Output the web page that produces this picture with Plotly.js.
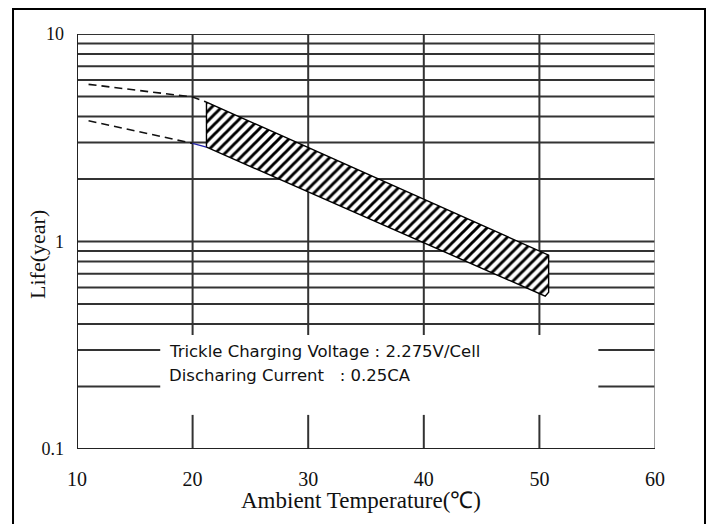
<!DOCTYPE html>
<html>
<head>
<meta charset="utf-8">
<script src="https://cdn.plot.ly/plotly-3.0.1.min.js"></script>
<style>html,body{margin:0;padding:0;background:#fff;}#chart{width:710px;height:524px;}</style>
</head>
<body>
<div id="chart"></div>
<script>
// ---- data ----
const xTickVals = [10, 20, 30, 40, 50, 60];
const xTickText = ['10', '20', '30', '40', '50', '60'];
const yTickVals = [0.1, 1, 10];
const yTickText = ['0.1', '1', '10'];

// grid values
const hGridFull = [0.4, 0.5, 0.6, 0.7, 0.8, 0.9, 1, 2, 3, 4, 5, 6, 7, 8, 9, 10];
const hGridPartial = [0.2, 0.3];
const vGrid = [20, 30, 40, 50];

// hatched life band (temperature, life in years)
const bandTemp = [21.2, 50.8, 50.8, 50.5, 21.2, 21.2];
const bandLife = [4.7, 0.86, 0.57, 0.545, 2.85, 4.7];

// dashed extrapolations below 20 C
const dashUpperTemp = [11, 20, 21.2];
const dashUpperLife = [5.72, 4.97, 4.7];
const dashLowerTemp = [11, 20];
const dashLowerLife = [3.82, 2.97];
const blueTemp = [20, 21.2];
const blueLife = [2.97, 2.85];

const noteLines = ['Trickle Charging Voltage : 2.275V/Cell', 'Discharing Current\u00a0\u00a0 : 0.25CA'];

// ---- layout helpers (not data) ----
const X0 = 10, X1 = 60, Y0 = 0.1, Y1 = 10;
const vGridEnd = 0.354, vTickTop = 0.146;
const partialLeftEnd = 17.2, partialRightStart = 55.1;

function segs(list) {
  const x = [], y = [];
  list.forEach(s => { x.push(s[0], s[2], null); y.push(s[1], s[3], null); });
  return {x, y};
}

const hFull = segs(hGridFull.map(v => [X0, v, X1, v]));
const hPart = segs([].concat(...hGridPartial.map(v => [[X0, v, partialLeftEnd, v], [partialRightStart, v, X1, v]])));
const vSeg = segs([].concat(...vGrid.map(v => [[v, Y1, v, vGridEnd], [v, Y0, v, vTickTop]])));
const axesDark = segs([[X0, Y0, X0, Y1], [X0, Y0, X1, Y0]]);
const axesRight = segs([[X1, Y0, X1, Y1]]);

const gridColor = '#333';
const traces = [
  {x: hFull.x, y: hFull.y, mode: 'lines', line: {color: gridColor, width: 2}, hoverinfo: 'skip'},
  {x: hPart.x, y: hPart.y, mode: 'lines', line: {color: gridColor, width: 2}, hoverinfo: 'skip'},
  {x: vSeg.x, y: vSeg.y, mode: 'lines', line: {color: gridColor, width: 2}, hoverinfo: 'skip'},
  {x: axesRight.x, y: axesRight.y, mode: 'lines', line: {color: '#8a8a8a', width: 1.6}, hoverinfo: 'skip'},
  {x: axesDark.x, y: axesDark.y, mode: 'lines', line: {color: '#222', width: 2}, hoverinfo: 'skip'},
  {x: dashUpperTemp, y: dashUpperLife, mode: 'lines', line: {color: '#111', width: 1.6, dash: '8px,5px'}, hoverinfo: 'skip'},
  {x: dashLowerTemp, y: dashLowerLife, mode: 'lines', line: {color: '#111', width: 1.6, dash: '8px,5px'}, hoverinfo: 'skip'},
  {x: bandTemp, y: bandLife, mode: 'lines', fill: 'toself', fillcolor: 'white',
   fillpattern: {shape: '/', size: 7, solidity: 0.42, fgcolor: '#000', bgcolor: '#fff'},
   line: {color: '#000', width: 1.4}, hoverinfo: 'skip'},
  {x: blueTemp, y: blueLife, mode: 'lines', line: {color: '#2222aa', width: 1.4}, hoverinfo: 'skip'}
];

const serif = 'Liberation Serif, Times New Roman, serif';
const layout = {
  width: 710, height: 524,
  margin: {l: 77, r: 55, t: 34, b: 75},
  paper_bgcolor: '#fff', plot_bgcolor: '#fff',
  showlegend: false,
  xaxis: {range: [X0, X1], showgrid: false, zeroline: false, showline: false,
          tickvals: xTickVals, ticktext: xTickText, ticks: '',
          tickfont: {family: serif, size: 20, color: '#111'}, ticklabelstandoff: 16},
  yaxis: {type: 'log', range: [Math.log10(Y0), Math.log10(Y1)], showgrid: false, zeroline: false, showline: false,
          tickvals: yTickVals, ticktext: yTickText, ticks: '',
          tickfont: {family: serif, size: 18, color: '#111'}, ticklabelstandoff: 12},
  annotations: [
    {xref: 'paper', yref: 'paper', x: 0.492, y: -0.123, text: 'Ambient Temperature(℃)', showarrow: false,
     xanchor: 'center', yanchor: 'middle', font: {family: serif, size: 23, color: '#111'}},
    {xref: 'paper', yref: 'paper', x: -0.0675, y: 0.47, text: 'Life(year)', showarrow: false, textangle: -90,
     xanchor: 'center', yanchor: 'middle', font: {family: serif, size: 22, color: '#111'}},
    {xref: 'paper', yref: 'paper', x: 0.1557, y: 0.236, text: noteLines[0], showarrow: false,
     xanchor: 'left', yanchor: 'middle', font: {family: 'DejaVu Sans, Verdana, sans-serif', size: 16.5, color: '#111'}},
    {xref: 'paper', yref: 'paper', x: 0.1557, y: 0.176, text: noteLines[1], showarrow: false,
     xanchor: 'left', yanchor: 'middle', font: {family: 'DejaVu Sans, Verdana, sans-serif', size: 16.5, color: '#111'}}
  ],
  shapes: [
    {type: 'rect', xref: 'paper', yref: 'paper', x0: -0.1107, x1: 1.0865, y0: -0.2, y1: 1.0602,
     line: {color: '#000', width: 2}, fillcolor: 'rgba(0,0,0,0)', layer: 'above'}
  ]
};

Plotly.newPlot('chart', traces, layout, {displayModeBar: false, staticPlot: true});
</script>
</body>
</html>
